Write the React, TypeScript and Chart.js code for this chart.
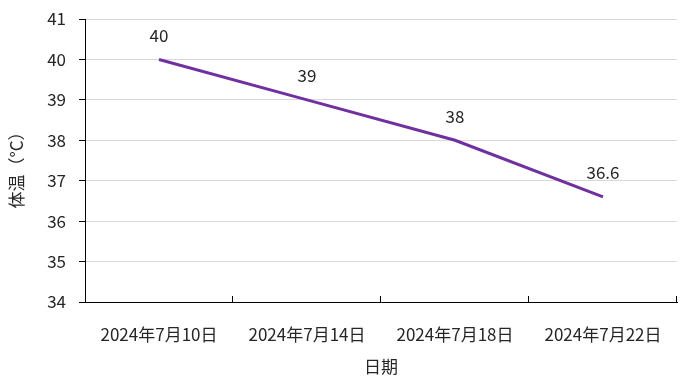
import React, { useEffect, useRef } from "react";
import { Chart, registerables } from "chart.js";

Chart.register(...registerables);

const categories = ["2024年7月10日", "2024年7月14日", "2024年7月18日", "2024年7月22日"];
const temperatures = [40, 39, 38, 36.6];
const yMin = 34;
const yMax = 41;
const xTitle = "日期";
const yTitle = "体温（°C）";

const FONT = '"Noto Sans CJK SC", "Noto Sans", sans-serif';
const SIZE = 17;
const TEXT = "#262626";
const LINE = "#7030A0";

const overlayPlugin = {
  id: "overlay",
  afterDatasetsDraw(chart: any) {
    const ctx = chart.ctx;
    const area = chart.chartArea;
    const xs = chart.scales.x;
    ctx.save();
    ctx.strokeStyle = "#000000";
    ctx.lineWidth = 1;
    const n = categories.length;
    for (let i = 1; i <= n; i++) {
      const x = Math.round(xs.left + ((xs.right - xs.left) * i) / n) - 0.5;
      ctx.beginPath();
      ctx.moveTo(x, area.bottom);
      ctx.lineTo(x, area.bottom - 6);
      ctx.stroke();
    }
    const meta = chart.getDatasetMeta(0);
    ctx.fillStyle = TEXT;
    ctx.font = `${SIZE}px ${FONT}`;
    ctx.textAlign = "center";
    ctx.textBaseline = "middle";
    meta.data.forEach((pt: any, i: number) => {
      ctx.fillText(String(temperatures[i]), pt.x, pt.y - 24);
    });
    ctx.translate(17, 166);
    ctx.rotate(-Math.PI / 2);
    ctx.fillText(yTitle, 0, 0);
    ctx.restore();
  },
};

export default function App() {
  const ref = useRef<HTMLCanvasElement | null>(null);
  useEffect(() => {
    if (!ref.current) return;
    const chart = new Chart(ref.current, {
      type: "line",
      data: {
        labels: categories,
        datasets: [
          {
            data: temperatures,
            borderColor: LINE,
            backgroundColor: LINE,
            borderWidth: 3,
            pointRadius: 0,
            tension: 0,
          },
        ],
      },
      options: {
        animation: false,
        responsive: false,
        layout: { padding: { left: 0, right: 16, top: 19, bottom: 0 } },
        plugins: {
          legend: { display: false },
          tooltip: { enabled: false },
        },
        scales: {
          x: {
            offset: true,
            grid: { display: true, color: "rgba(0,0,0,0)", drawOnChartArea: false, drawTicks: false, offset: true },
            border: { display: true, color: "#000000", width: 1 },
            ticks: { color: TEXT, font: { family: FONT, size: SIZE }, padding: 22, maxRotation: 0, autoSkip: false },
            title: { display: true, text: xTitle, color: TEXT, font: { family: FONT, size: SIZE }, padding: { top: 0, bottom: 11 } },
            afterFit: (s: any) => {
              s.height = 86;
              s.paddingLeft = 0;
              s.paddingRight = 0;
            },
          },
          y: {
            min: yMin,
            max: yMax,
            ticks: { stepSize: 1, color: TEXT, font: { family: FONT, size: SIZE }, padding: 13 },
            grid: { color: "#d9d9d9", lineWidth: 1, tickColor: "#000000", tickLength: 6 },
            border: { display: true, color: "#000000", width: 1 },
            afterFit: (s: any) => {
              s.width = 85;
              s.paddingTop = 0;
              s.paddingBottom = 0;
            },
          },
        },
      },
      plugins: [overlayPlugin],
    });
    return () => chart.destroy();
  }, []);
  return (
    <div style={{ position: "absolute", left: 0, top: 0, width: 693, height: 388, background: "#fff" }}>
      <canvas ref={ref} width={693} height={388} />
    </div>
  );
}
